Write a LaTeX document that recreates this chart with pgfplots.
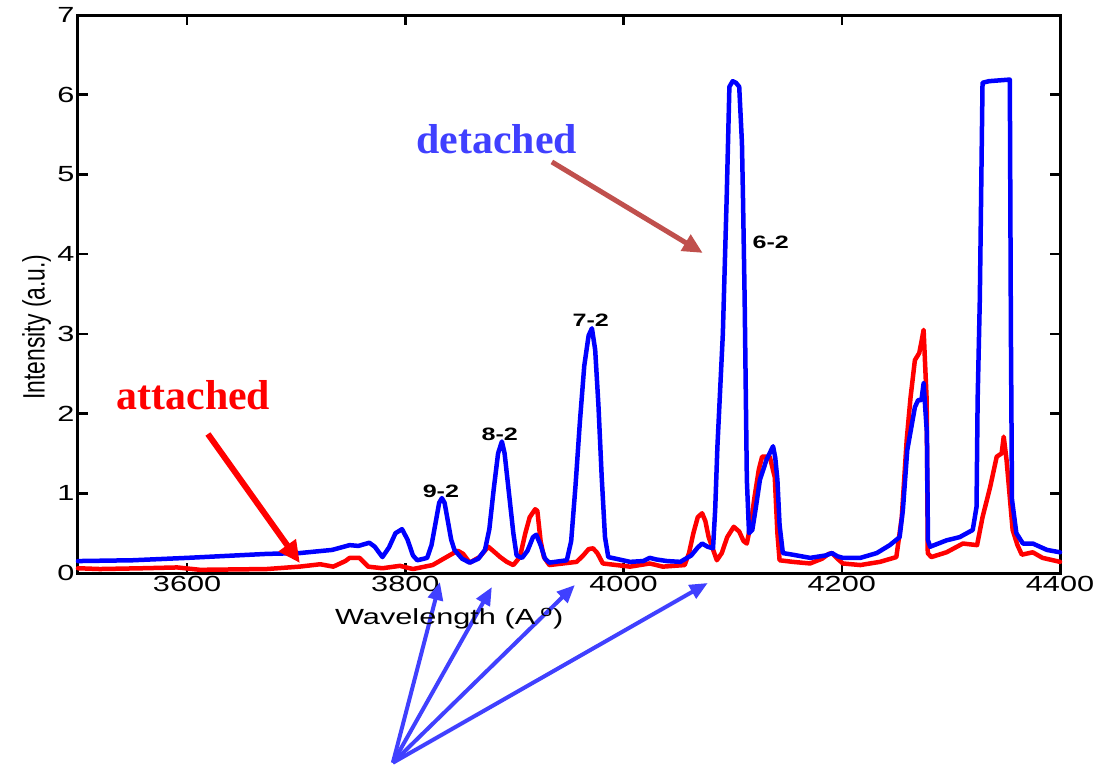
\documentclass[border=0pt]{standalone}
\usepackage{pgfplots}
\pgfplotsset{compat=1.18}
\usepackage{fontspec}
\setmainfont{Liberation Sans}
\newfontfamily\timesfont{Liberation Serif}
\usetikzlibrary{arrows.meta}
\definecolor{bl}{RGB}{0,0,255}
\definecolor{rd}{RGB}{255,0,0}
\definecolor{arrblue}{RGB}{64,64,255}
\definecolor{arrbrown}{RGB}{192,80,77}
\newcommand{\sx}[1]{\scalebox{1.4}[1]{#1}}
\begin{document}
\begin{tikzpicture}
\begin{axis}[
  width=982bp, height=558bp, scale only axis,
  xmin=3500, xmax=4400, ymin=0, ymax=7,
  clip=false,
  axis line style={line width=3bp},
  tick style={line width=2.5bp, black},
  major tick length=10bp,
  tick align=inside,
  xtick={3600,3800,4000,4200,4400},
  xticklabels={\sx{3600},\sx{3800},\sx{4000},\sx{4200},\sx{4400}},
  ytick={0,1,2,3,4,5,6,7},
  yticklabels={\sx{0},\sx{1},\sx{2},\sx{3},\sx{4},\sx{5},\sx{6},\sx{7}},
  ticklabel style={font=\fontsize{22}{26}\selectfont},
  xlabel={\sx{Wavelength (A\,\textsuperscript{o})}},
  xlabel style={font=\fontsize{22}{26}\selectfont, at={(axis description cs:0.378,-0.082)}, anchor=center},
  ylabel={\scalebox{1}[1.35]{Intensity (a.u.)}},
  ylabel style={font=\fontsize{23}{27}\selectfont, at={(axis description cs:-0.042,0.441)}, anchor=center},
]
\addplot[rd, line width=4.5bp, line join=round, line cap=round] coordinates {
(3500,0.06)(3520,0.05)(3560,0.06)(3591,0.07)(3612,0.04)(3673,0.05)(3703,0.08)(3722,0.11)(3734,0.08)(3745,0.15)(3749,0.19)(3758,0.19)(3766,0.08)(3779,0.06)(3795,0.09)(3807,0.05)(3825,0.1)(3839,0.21)(3848,0.28)(3853,0.24)(3859,0.13)(3868,0.2)(3876,0.33)(3882,0.26)(3887,0.2)(3893,0.14)(3899,0.1)(3905,0.2)(3910,0.5)(3914,0.7)(3919,0.8)(3921,0.78)(3924,0.4)(3927,0.2)(3932,0.1)(3957,0.14)(3963,0.22)(3968,0.3)(3972,0.31)(3976,0.25)(3981,0.12)(4006,0.08)(4024,0.12)(4036,0.08)(4056,0.1)(4060,0.25)(4064,0.5)(4068,0.7)(4072,0.75)(4075,0.65)(4078,0.45)(4085.5,0.16)(4090,0.25)(4095,0.45)(4101,0.58)(4106,0.52)(4110,0.4)(4113,0.37)(4117,0.65)(4120,0.95)(4124,1.3)(4127,1.46)(4134,1.46)(4138.6,1.2)(4141,0.5)(4143,0.16)(4155,0.14)(4171,0.12)(4182,0.18)(4188,0.24)(4191,0.25)(4196,0.18)(4201,0.12)(4217,0.1)(4235,0.14)(4250,0.2)(4255,0.7)(4259.5,1.67)(4263,2.2)(4267,2.67)(4271,2.76)(4273,2.9)(4275,3.05)(4277.8,2.17)(4278.8,0.25)(4282,0.2)(4296,0.26)(4311,0.37)(4324,0.35)(4329,0.7)(4336,1.08)(4342,1.46)(4346.5,1.5)(4348.4,1.71)(4351,1.42)(4356.6,0.54)(4361,0.35)(4365,0.23)(4375,0.26)(4384,0.19)(4400,0.14)
};
\addplot[bl, line width=4.5bp, line join=round, line cap=round] coordinates {
(3500,0.15)(3550,0.16)(3600,0.19)(3673,0.24)(3703,0.25)(3733,0.29)(3749,0.35)(3757,0.34)(3767,0.38)(3772,0.33)(3779,0.2)(3785,0.32)(3791,0.5)(3797,0.55)(3802,0.42)(3807,0.22)(3811,0.16)(3820,0.19)(3824,0.35)(3828,0.65)(3831,0.88)(3833.5,0.94)(3836,0.88)(3839,0.65)(3842,0.42)(3845,0.29)(3852,0.18)(3859,0.13)(3867,0.18)(3873,0.29)(3877,0.55)(3881,1.05)(3885,1.5)(3888.5,1.65)(3891,1.5)(3895,1.0)(3899,0.5)(3902,0.22)(3907,0.19)(3912,0.28)(3917,0.45)(3920,0.48)(3924,0.35)(3928,0.18)(3932,0.13)(3948,0.16)(3952,0.4)(3956,1.1)(3960,1.9)(3964,2.6)(3968,2.98)(3971,3.07)(3974,2.8)(3977,2.1)(3980,1.2)(3983,0.45)(3986,0.2)(4006,0.14)(4018,0.15)(4024,0.19)(4030,0.17)(4040,0.15)(4052,0.14)(4062,0.22)(4068,0.32)(4072,0.37)(4077,0.33)(4082,0.31)(4084,0.8)(4086,1.58)(4091,3.0)(4094.5,4.7)(4097,6.1)(4100,6.17)(4103,6.15)(4106,6.1)(4108.5,5.4)(4109.5,4.68)(4111,3.42)(4113,1.17)(4115,0.5)(4118,0.54)(4121,0.8)(4125,1.17)(4131,1.42)(4137,1.59)(4139,1.45)(4141,1.17)(4143,0.6)(4146,0.25)(4155,0.23)(4171,0.19)(4185,0.22)(4191,0.25)(4196,0.21)(4201,0.19)(4217,0.19)(4232,0.25)(4244,0.35)(4253,0.45)(4256,0.79)(4260,1.54)(4267,2.08)(4270,2.17)(4273,2.17)(4275,2.38)(4278,1.76)(4279,0.41)(4281,0.33)(4296,0.41)(4308,0.45)(4320,0.54)(4323.5,0.83)(4324.5,2.17)(4326.5,3.43)(4327.5,4.5)(4329,6.15)(4335,6.17)(4354,6.19)(4355,3.0)(4356,0.92)(4360,0.5)(4366,0.37)(4375,0.37)(4388,0.29)(4400,0.26)
};
% annotations
\node[font=\fontsize{18}{20}\selectfont\bfseries] at (axis cs:3832.6,1.03) {\sx{9-2}};
\node[font=\fontsize{18}{20}\selectfont\bfseries] at (axis cs:3886.6,1.744) {\sx{8-2}};
\node[font=\fontsize{18}{20}\selectfont\bfseries] at (axis cs:3970.0,3.175) {\sx{7-2}};
\node[font=\fontsize{18}{20}\selectfont\bfseries] at (axis cs:4134.9,4.153) {\sx{6-2}};
\node[font=\timesfont\bfseries\fontsize{42}{48}\selectfont, text=rd] at (axis cs:3605.8,2.227) {attached};
\node[font=\timesfont\bfseries\fontsize{42}{48}\selectfont, text=arrblue] at (axis cs:3883.9,5.445) {detached};
\draw[rd, line width=6bp, -{Triangle[length=22bp,width=20bp]}] (axis cs:3619.1,1.744) -- (axis cs:3703.4,0.125);
\draw[arrbrown, line width=5bp, -{Triangle[length=20bp,width=18bp]}] (axis cs:3934.3,5.157) -- (axis cs:4072.6,4.015);
\draw[arrblue, line width=4bp, -{Triangle[length=18bp,width=15bp]}] (axis cs:3788.6,-2.38) -- (axis cs:3831.7,-0.113);
\draw[arrblue, line width=4bp, -{Triangle[length=18bp,width=15bp]}] (axis cs:3788.6,-2.38) -- (axis cs:3879.3,-0.176);
\draw[arrblue, line width=4bp, -{Triangle[length=18bp,width=15bp]}] (axis cs:3788.6,-2.38) -- (axis cs:3955.4,-0.15);
\draw[arrblue, line width=4bp, -{Triangle[length=18bp,width=15bp]}] (axis cs:3788.6,-2.38) -- (axis cs:4077.2,-0.125);
\coordinate (bbSW) at (rel axis cs:-0.0794,-0.3548);
\coordinate (bbNE) at (rel axis cs:1.056,1.0269);
\end{axis}
\pgfresetboundingbox
\path[use as bounding box] (bbSW) rectangle (bbNE);
\end{tikzpicture}
\end{document}
